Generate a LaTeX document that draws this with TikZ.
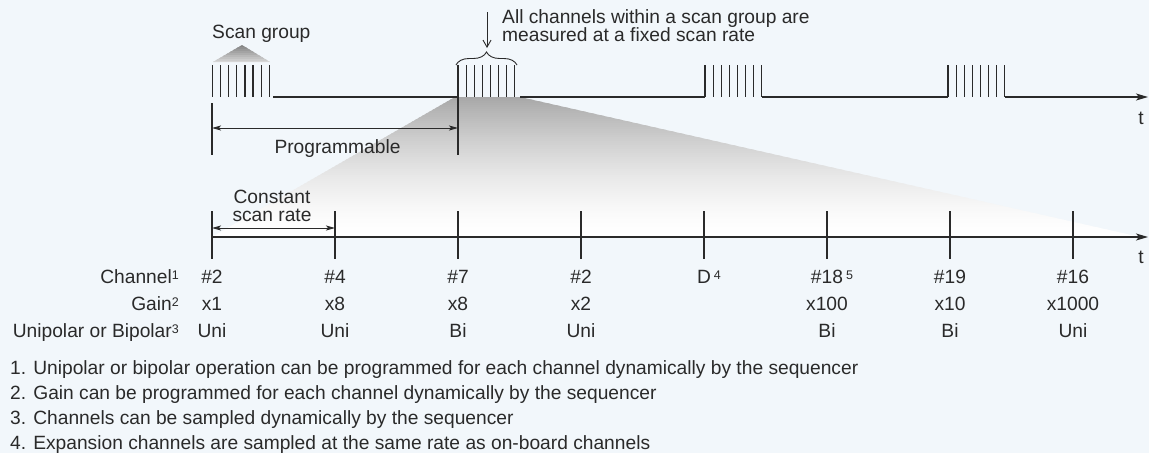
\documentclass[tikz,border=0pt]{standalone}
\usepackage{fontspec}
\setmainfont{Liberation Sans}
\usetikzlibrary{arrows.meta,decorations.pathreplacing}
\definecolor{bg}{HTML}{F2F7FB}
\definecolor{ink}{HTML}{2A2A2A}
\newcommand\supr[1]{\raisebox{3.6pt}{\fontsize{12.5}{12.5}\selectfont #1}}
\begin{document}
\begin{tikzpicture}[x=1pt,y=-1pt,
  txt/.style={font=\fontsize{19.2}{19}\selectfont, text=ink, inner sep=0pt, anchor=base},
  lbl/.style={txt, anchor=base east},
  note/.style={txt, anchor=base west},
  ln/.style={draw=ink, line width=1.2pt},
  dim/.style={draw=ink, line width=0.9pt, {Stealth[length=9pt,width=5pt,inset=2pt]}-{Stealth[length=9pt,width=5pt,inset=2pt]}},
  axis/.style={draw=ink, line width=1.2pt, -{Stealth[length=12pt,width=7pt,inset=3pt]}}]
\fill[bg] (0,0) rectangle (1149,453);
\useasboundingbox (0,0) rectangle (1149,453);

% expansion gradient
\coordinate (gTL) at (455,97);
\coordinate (gTR) at (520,97);
\coordinate (gBR) at (1140,237);
\coordinate (gBL) at (212,237);
\begin{scope}
  \clip (gTL) -- (gTR) -- (gBR) -- (gBL) -- cycle;
  \foreach \i in {0,...,69} {
    \pgfmathsetmacro\p{34*(1-\i/70)^1.6}
    \fill[black!\p!white] (200,97+2*\i) rectangle (1149,99.5+2*\i);
  }
\end{scope}

% scan group triangle
\coordinate (sgA) at (242,45);
\coordinate (sgL) at (213,62);
\coordinate (sgR) at (270,62);
\begin{scope}
  \clip (sgA) -- (sgR) -- (sgL) -- cycle;
  \foreach \i in {0,...,8} {
    \pgfmathsetmacro\p{48-4*\i}
    \fill[black!\p!white] (200,45+2*\i) rectangle (290,47.5+2*\i);
  }
\end{scope}

% top timeline pulses
\foreach \gx in {212.5,458,705,948}
  \foreach \k in {0,...,7}
    \draw[ln] (\gx+\k*8.1,65) -- (\gx+\k*8.1,97);
\coordinate (b1a) at (273,97);  \coordinate (b1b) at (458,97);
\coordinate (b2a) at (520,97);  \coordinate (b2b) at (705,97);
\coordinate (b3a) at (762,97);  \coordinate (b3b) at (948,97);
\coordinate (b4a) at (1005,97); \coordinate (b4b) at (1148,97);
\draw[ln] (b1a) -- (b1b);
\draw[ln] (b2a) -- (b2b);
\draw[ln] (b3a) -- (b3b);
\draw[axis] (b4a) -- (b4b);
\node[txt] (t1) at (1141,124) {t};

% brace and note
\coordinate (brL) at (456,65);
\coordinate (brR) at (517,65);
\draw[draw=ink, line width=0.9pt, decorate, decoration={brace, amplitude=13pt}] (brL) -- (brR);
\coordinate (arTop) at (487,12);
\coordinate (arBot) at (487,48);
\draw[draw=ink, line width=0.9pt, -{Straight Barb[length=7pt,width=8pt]}] (arTop) -- (arBot);
\node[note] (all1) at (502,23) {All channels within a scan group are};
\node[note] (all2) at (502,41) {measured at a fixed scan rate};
\node[note] (sg) at (212,38) {Scan group};

% programmable
\coordinate (p1t) at (212,103); \coordinate (p1b) at (212,155);
\coordinate (p2t) at (458,97);  \coordinate (p2b) at (458,155);
\draw[ln] (p1t) -- (p1b);
\draw[ln] (p2t) -- (p2b);
\coordinate (pa) at (212,128); \coordinate (pb) at (458,128);
\draw[dim] (pa) -- (pb);
\node[txt] (prog) at (337.5,153) {Programmable};

% lower timeline
\coordinate (axL) at (212,237);
\coordinate (axR) at (1148,237);
\foreach \n/\x in {1/212,2/335,3/458,4/581,5/704,6/827,7/950,8/1073} {
  \coordinate (tt\n) at (\x,211);
  \coordinate (tb\n) at (\x,259);
  \draw[ln] (tt\n) -- (tb\n);
}
\draw[axis] (axL) -- (axR);
\node[txt] (t2) at (1141,263) {t};
\coordinate (ca) at (212,228); \coordinate (cb) at (335,228);
\draw[dim] (ca) -- (cb);
\node[txt] (c1) at (272,203) {Constant};
\node[txt] (c2) at (272,221) {scan rate};

% table rows
\node[lbl] (lch) at (179,283) {Channel\supr{1}};
\node[lbl] (lga) at (179,310) {Gain\supr{2}};
\node[lbl] (lub) at (179,337) {Unipolar or Bipolar\supr{3}};
\foreach \x/\c/\g/\u in {212/\#2/x1/Uni, 335/\#4/x8/Uni, 458/\#7/x8/Bi, 581/\#2/x2/Uni,
                         704/D\rlap{\kern3pt\supr{4}}//, 827/\#18\rlap{\kern3pt\supr{5}}/x100/Bi,
                         950/\#19/x10/Bi, 1073/\#16/x1000/Uni} {
  \node[txt] at (\x,283) {\c};
  \node[txt] at (\x,310) {\g};
  \node[txt] at (\x,337) {\u};
}

% footnotes
\node[note] (n1) at (10,374) {1. Unipolar or bipolar operation can be programmed for each channel dynamically by the sequencer};
\node[note] (n2) at (10,399) {2. Gain can be programmed for each channel dynamically by the sequencer};
\node[note] (n3) at (10,424) {3. Channels can be sampled dynamically by the sequencer};
\node[note] (n4) at (10,449) {4. Expansion channels are sampled at the same rate as on-board channels};
\end{tikzpicture}
\end{document}
